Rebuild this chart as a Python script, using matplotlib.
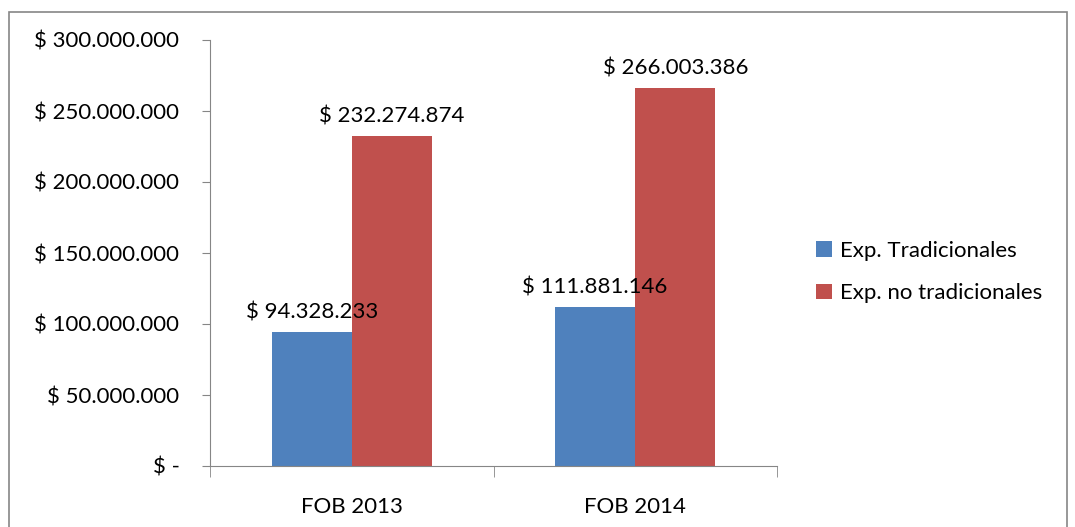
import numpy as np
import matplotlib.pyplot as plt
from matplotlib.patches import Rectangle

categorias = ["FOB 2013", "FOB 2014"]
tradicionales = [94328233, 111881146]
no_tradicionales = [232274874, 266003386]
series = ["Exp. Tradicionales", "Exp. no tradicionales"]
colores = ["#4F81BD", "#C0504D"]

plt.rcParams['font.family'] = ['Lato', 'DejaVu Sans']
fs = 16


def fmt(v):
    if v == 0:
        return "$ -"
    return "$ " + "{:,.0f}".format(v).replace(",", ".")


fig = plt.figure(figsize=(10.75, 5.27), dpi=100)
fig.patches.append(Rectangle((9 / 1075, -0.01), 1058 / 1075, 1 - 12 / 527 + 0.01,
                             transform=fig.transFigure, fill=False,
                             edgecolor="#868686", linewidth=1.2))
ax = fig.add_axes([210 / 1075, 1 - 466 / 527, 567 / 1075, 426 / 527])

x = np.arange(len(categorias))
w = 0.283
b1 = ax.bar(x - w / 2, tradicionales, w, color=colores[0], label=series[0])
b2 = ax.bar(x + w / 2, no_tradicionales, w, color=colores[1], label=series[1])

for bars, vals in [(b1, tradicionales), (b2, no_tradicionales)]:
    for r, v in zip(bars, vals):
        ax.annotate(fmt(v), (r.get_x() + r.get_width() / 2, v),
                    xytext=(0, 7), textcoords="offset points",
                    ha="center", va="bottom", fontsize=fs)

ax.set_xlim(-0.5, len(categorias) - 0.5)
ax.set_ylim(0, 300000000)
yt = np.arange(0, 300000001, 50000000)
ax.set_yticks(yt)
ax.set_yticklabels([fmt(v) for v in yt], fontsize=fs)
ax.set_xticks(x)
ax.set_xticklabels(categorias, fontsize=fs)
ax.tick_params(axis="x", length=0, pad=22)
ax.set_xticks(np.arange(-0.5, len(categorias)), minor=True)
ax.tick_params(axis="x", which="minor", length=8, color="#868686")
ax.tick_params(axis="y", length=6, color="#868686", pad=16)

for s in ["top", "right"]:
    ax.spines[s].set_visible(False)
for s in ["left", "bottom"]:
    ax.spines[s].set_color("#868686")

fig.legend(loc="center left", bbox_to_anchor=(796 / 1075, 1 - 272 / 527),
           frameon=False, fontsize=fs, handlelength=0.7, handleheight=0.7,
           labelspacing=1.0, handletextpad=0.4)

fig.savefig("out.png", dpi=100)
